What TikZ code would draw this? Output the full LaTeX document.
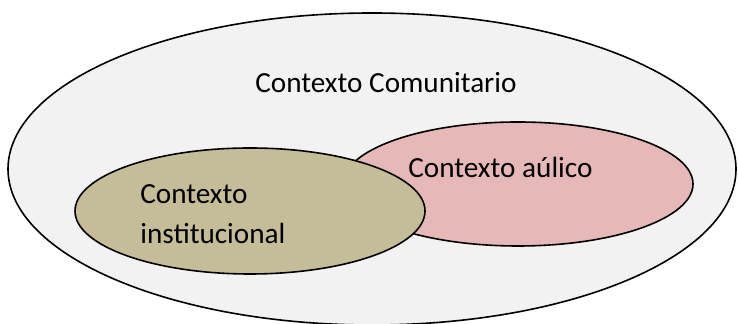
\documentclass[tikz,border=0pt]{standalone}
\usepackage{fontspec}
\setmainfont{Carlito}
\usetikzlibrary{shapes.geometric}
\definecolor{bgfill}{HTML}{F2F2F2}
\definecolor{pinkfill}{HTML}{E6B8B7}
\definecolor{olivefill}{HTML}{C4BD97}
\tikzset{
  region/.style={ellipse, draw=black, line width=0.8pt, inner sep=0pt},
  lbl/.style={anchor=base west, inner sep=0pt, font=\fontsize{14.6}{20}\selectfont, text=black}
}
\begin{document}
\begin{tikzpicture}[x=0.5pt,y=-0.5pt]
\useasboundingbox (0,0) rectangle (738,324);
\node[region, fill=bgfill, minimum width=728pt*0.5, minimum height=312pt*0.5] (comunitario) at (372,169) {};
\node[region, fill=pinkfill, minimum width=350pt*0.5, minimum height=124pt*0.5] (aulico) at (518,184) {};
\node[region, fill=olivefill, minimum width=350pt*0.5, minimum height=126pt*0.5] (institucional) at (250,211) {};
\node[lbl] (tcom) at (255,93) {Contexto Comunitario};
\node[lbl] (taul) at (408,178) {Contexto aúlico};
\node[lbl] (tins1) at (140,204) {Contexto};
\node[lbl] (tins2) at (140,244) {institucional};
\end{tikzpicture}
\end{document}
